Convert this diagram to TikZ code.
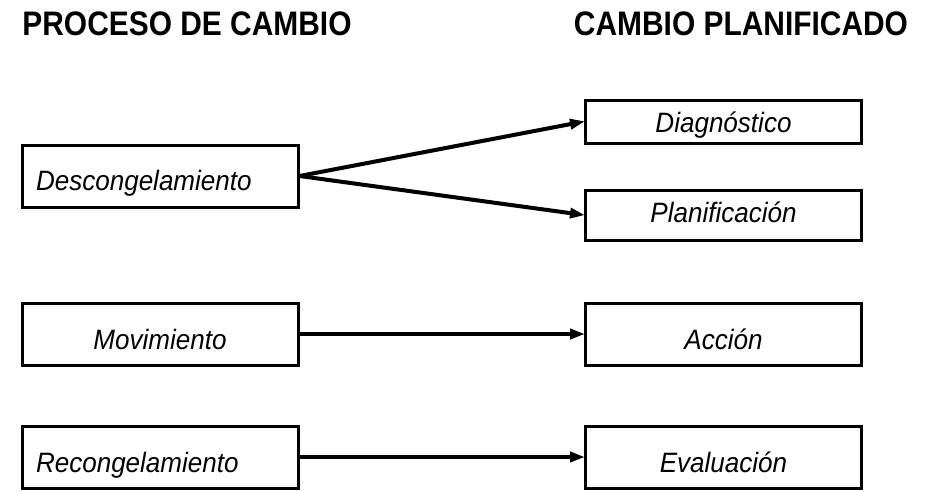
\documentclass[tikz,border=0pt]{standalone}
\usepackage{fontspec}
\setmainfont{Liberation Sans}
\newfontfamily\headfont[FakeStretch=0.88]{Liberation Sans}
\newfontfamily\labelfont[FakeStretch=0.93]{Liberation Sans}
\usetikzlibrary{arrows.meta}
\begin{document}
\begin{tikzpicture}[x=1pt,y=-1pt,
  heading/.style={font=\headfont\fontsize{34}{38}\selectfont\bfseries, inner sep=0pt},
  % baseline/.style places the text baseline #1 below the box centre
  baseline/.style={text height=2*#1, text depth=0pt},
  stagebox/.style={draw=black, line width=3pt, minimum width=276pt, minimum height=62pt,
    inner sep=0pt, text width=248pt, font=\labelfont\fontsize{28}{32}\selectfont\itshape,
    baseline=14pt},
  leftbox/.style={stagebox, align=left},
  midbox/.style={stagebox, align=center},
  flow/.style={line width=4pt, -{Triangle[length=15pt,width=10pt]}, shorten >=-1pt}
]
\useasboundingbox (0,0) rectangle (928,491);

% column headings
\node[heading] (hleft)  at (187,24) {PROCESO DE CAMBIO};
\node[heading] (hright) at (741,24) {CAMBIO PLANIFICADO};

% change process (left column)
\node[leftbox] (desc) at (160,176) {Descongelamiento};
\node[midbox, baseline=15pt]  (mov)  at (160,334) {Movimiento};
\node[leftbox, baseline=15pt] (rec)  at (160,457) {Recongelamiento};

% planned change (right column)
\node[midbox, minimum height=43pt, baseline=10.5pt] (diag) at (723.5,121.5) {Diagnóstico};
\node[midbox, minimum height=50pt, baseline=7.5pt]  (plan) at (723.5,215) {Planificación};
\node[midbox, baseline=15pt] (acc)  at (723.5,334) {Acción};
\node[midbox, baseline=15pt] (eva)  at (723.5,457) {Evaluación};

% connectors
\draw[flow] (desc.east) -- (diag.west);
\draw[flow] (desc.east) -- (plan.west);
\draw[flow] (mov.east) -- (acc.west);
\draw[flow] (rec.east) -- (eva.west);
\end{tikzpicture}
\end{document}
